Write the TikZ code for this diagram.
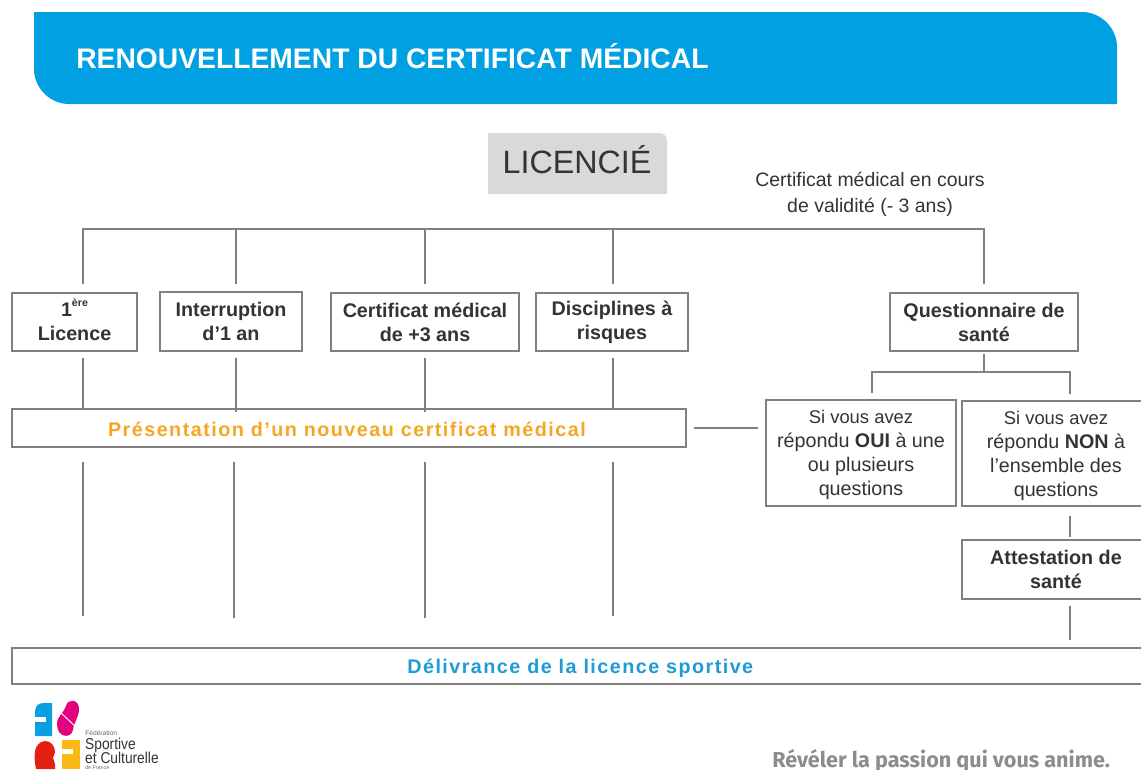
\documentclass[tikz,border=0pt]{standalone}
\usepackage{fontspec}
\setmainfont{Liberation Sans}
\newfontfamily\sloganfont{Fira Sans}
\definecolor{bannerblue}{HTML}{00A0E3}
\definecolor{linegray}{HTML}{808080}
\definecolor{txtgray}{HTML}{333333}
\definecolor{orangetxt}{HTML}{F5A623}
\definecolor{bluetxt}{HTML}{1F9BD7}
\definecolor{graybox}{HTML}{D9D9D9}
\definecolor{logoblue}{HTML}{0A9FE3}
\definecolor{logopink}{HTML}{E5007E}
\definecolor{logored}{HTML}{E3200F}
\definecolor{logoyellow}{HTML}{FDB913}
\tikzset{
 x=0.75pt,y=-0.75pt,
 conn/.style={draw=linegray,line width=1.5pt},
 boxn/.style={draw=linegray,line width=0.8pt,fill=white,inner sep=0pt,align=center,text=txtgray,font=\fontsize{14.8}{18}\selectfont},
 lab/.style={inner sep=0pt,align=center,text=txtgray,font=\fontsize{14.6}{19.5}\selectfont},
 logotxt/.style={anchor=west,inner sep=0pt,text=txtgray},
}
\newcommand{\boxat}[6]{% name, x0, y0, x1, y1, text
 \pgfmathsetmacro{\cxx}{(#2+#4)/2}\pgfmathsetmacro{\cyy}{(#3+#5)/2}
 \pgfmathsetmacro{\wdd}{(#4-#2)*0.75}\pgfmathsetmacro{\htt}{(#5-#3)*0.75}
 \node[boxn,minimum width=\wdd pt,minimum height=\htt pt] (#1) at (\cxx,\cyy) {#6};}
\newcommand{\lowered}[2]{\raisebox{-#1}[\height][\depth]{#2}}
\begin{document}
\begin{tikzpicture}
\useasboundingbox (0,0) rectangle (1141,769);
\clip (0,0) rectangle (1141,769);
\fill[white] (0,0) rectangle (1141,769);
% banner
\fill[bannerblue] (34,12) -- (1082,12) .. controls (1101,12) and (1117,28) .. (1117,47) -- (1117,104) -- (69,104) .. controls (50,104) and (34,88) .. (34,69) -- cycle;
\node[anchor=west,inner sep=0pt,text=white,font=\fontsize{21.2}{24}\selectfont\bfseries] (title) at (76,56.5) {RENOUVELLEMENT DU CERTIFICAT MÉDICAL};
% root
\fill[graybox] (488,133) -- (659,133) .. controls (664,133) and (667,136) .. (667,141) -- (667,194) -- (488,194) -- cycle;
\node[minimum width=134.25pt,minimum height=30pt,inner sep=0pt,text=txtgray,font=\fontsize{24.2}{28}\selectfont] (root) at (577,160) {LICENCIÉ};
\node[lab] (valid) at (870,194) {Certificat médical en cours\\de validité (- 3 ans)};
% boxes
\boxat{lic}{12}{293}{137}{351}{\textbf{1\raisebox{0.5em}[0pt][0pt]{\fontsize{8}{8}\selectfont ère}}\\\textbf{Licence}}
\boxat{inter}{160}{292}{302}{351}{\textbf{Interruption}\\\textbf{d'1 an}}
\boxat{cert}{331}{293}{519}{351}{\textbf{Certificat médical}\\\textbf{de +3 ans}}
\boxat{disc}{536}{293}{688}{351}{\textbf{Disciplines à}\\\textbf{risques}}
\boxat{quest}{890}{293}{1078}{351}{\textbf{Questionnaire de}\\\textbf{santé}}
\boxat{pres}{12}{409}{686}{447}{\hspace*{-2pt}\lowered{0.8pt}{\textcolor{orangetxt}{\addfontfeature{LetterSpace=7.5}\textbf{Présentation d’un nouveau certificat médical}}}}
\boxat{oui}{766}{400}{956}{506}{\fontsize{13.8}{18}\selectfont\lowered{1.5pt}{Si vous avez}\\\lowered{1.5pt}{répondu \textbf{OUI} à une}\\\lowered{1.5pt}{ou plusieurs}\\\lowered{1.5pt}{questions}}
\boxat{non}{962}{401}{1150}{506}{\fontsize{13.8}{18}\selectfont\lowered{1.5pt}{Si vous avez}\\\lowered{1.5pt}{répondu \textbf{NON} à}\\\lowered{1.5pt}{l'ensemble des}\\\lowered{1.5pt}{questions}}
\boxat{att}{962}{540}{1150}{599}{\textbf{Attestation de}\\\textbf{santé}}
\boxat{del}{12}{648}{1150}{684}{\lowered{1.5pt}{\textcolor{bluetxt}{\addfontfeature{LetterSpace=7.4}\textbf{Délivrance de la licence sportive}}}}
% coordinates for the free connector ends
\coordinate (bl) at (83,229); \coordinate (br) at (984,229);
\coordinate (b2) at (236,229); \coordinate (b3) at (425,229); \coordinate (b4) at (613,229);
\coordinate (d1) at (83,284); \coordinate (d2) at (236,284); \coordinate (d3) at (425,284); \coordinate (d4) at (613,284); \coordinate (d5) at (984,284);
\draw[conn] (d1) -- (bl) -- (br) -- (d5);
\draw[conn] (b2) -- (d2); \draw[conn] (b3) -- (d3); \draw[conn] (b4) -- (d4);
% under the boxes
\coordinate (u1) at (83,358); \coordinate (u2) at (236,358); \coordinate (u3) at (425,358); \coordinate (u4) at (613,358);
\coordinate (p1) at (83,409); \coordinate (p2) at (236,412); \coordinate (p3) at (425,412); \coordinate (p4) at (613,409);
\draw[conn] (u1) -- (p1); \draw[conn] (u2) -- (p2); \draw[conn] (u3) -- (p3); \draw[conn] (u4) -- (p4);
\coordinate (v1) at (83,462); \coordinate (v2) at (234,462); \coordinate (v3) at (425,462); \coordinate (v4) at (613,462);
\coordinate (w1) at (83,616); \coordinate (w2) at (234,618); \coordinate (w3) at (425,618); \coordinate (w4) at (613,616);
\draw[conn] (v1) -- (w1); \draw[conn] (v2) -- (w2); \draw[conn] (v3) -- (w3); \draw[conn] (v4) -- (w4);
% presentation to OUI
\coordinate (s1) at (694,428); \coordinate (s2) at (758,428);
\draw[conn] (s1) -- (s2);
% questionnaire fork
\coordinate (q0) at (984,354); \coordinate (q1) at (984,372);
\coordinate (fl) at (872,372); \coordinate (fr) at (1070,372);
\coordinate (fld) at (872,393); \coordinate (frd) at (1070,394);
\draw[conn] (q0) -- (q1);
\draw[conn] (fld) -- (fl) -- (fr) -- (frd);
% NON to attestation to delivery
\coordinate (n0) at (1070,516); \coordinate (n1) at (1070,537);
\coordinate (a0) at (1070,606); \coordinate (a1) at (1070,640);
\draw[conn] (n0) -- (n1); \draw[conn] (a0) -- (a1);
% logo
\fill[logoblue] (35,736) -- (35,712) .. controls (35,706) and (38,703) .. (44,703) -- (52,703) -- (52,736) -- cycle;
\fill[white] (35,717) rectangle (46,722);
\fill[logopink] (57,724) .. controls (57,716) and (64,713) .. (66,706) .. controls (68,698) and (79,699) .. (79,709) .. controls (79,717) and (74,722) .. (73,730) .. controls (71,739) and (57,738) .. (57,724) -- cycle;
\draw[white,line width=0.7pt] (60,712) -- (76,727);
\fill[logored] (45,741) .. controls (51,741) and (55,746) .. (55,752) .. controls (55,755) and (53,756) .. (53,758) .. controls (53,760) and (55,761) .. (55,764) -- (55,769) -- (36,769) .. controls (34,760) and (34,750) .. (37,746) .. controls (39,743) and (42,741) .. (45,741) -- cycle;
\fill[logoyellow] (62,740) rectangle (80,769);
\fill[white] (62,749) rectangle (73,754);
\node[logotxt,text=txtgray!75,font=\fontsize{5}{5}\selectfont] (l1) at (85,733.5) {Fédération};
\node[logotxt,xscale=0.875,font=\fontsize{11.8}{10}\selectfont] (l2) at (85,745) {Sportive};
\node[logotxt,xscale=0.875,font=\fontsize{11.8}{10}\selectfont] (l3) at (85,758) {et Culturelle};
\node[logotxt,text=txtgray!70,font=\fontsize{4}{4}\selectfont] (l4) at (85,767.5) {de France};
\node[anchor=west,inner sep=0pt,text=gray!90,font=\sloganfont\fontsize{16.2}{18}\selectfont\bfseries] (slogan) at (772,761) {Révéler la passion qui vous anime.};
\end{tikzpicture}
\end{document}
